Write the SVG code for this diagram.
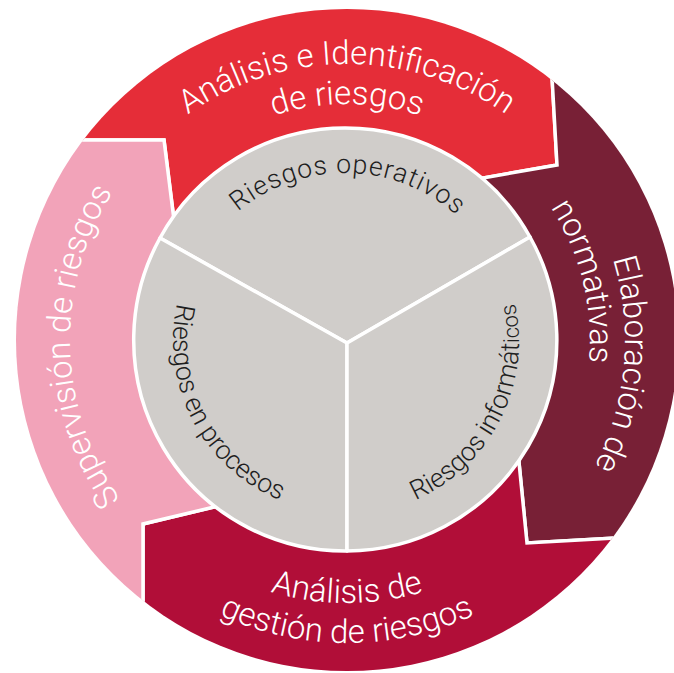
<svg xmlns="http://www.w3.org/2000/svg" width="674" height="673" viewBox="0 0 674 673">
<style>
.seg{stroke:#fff;stroke-width:3.5;stroke-linejoin:miter}
.sec{fill:#D0CDCA;stroke:#fff;stroke-width:3.5;stroke-linejoin:round}
.ot{font-family:Roboto,"Liberation Sans",Arial,sans-serif;font-weight:300;font-size:33px;fill:#fff;text-anchor:middle}
.it{font-family:Roboto,"Liberation Sans",Arial,sans-serif;font-weight:300;font-size:26.5px;fill:#1e1e1e;text-anchor:middle}
</style>
<defs>
<clipPath id="ring"><circle cx="347" cy="340" r="331"/></clipPath>
<path id="pTop1" d="M 71 340 A 276 276 0 0 1 623 340"/>
<path id="pTop2" d="M 111 340 A 236 236 0 0 1 583 340"/>
<path id="pR1" d="M 347 62 A 278 278 0 0 1 347 618"/>
<path id="pR2" d="M 347 97 A 243 243 0 0 1 347 583"/>
<path id="pB1" d="M 84 340 A 263 263 0 0 0 610 340"/>
<path id="pB2" d="M 44 340 A 303 303 0 0 0 650 340"/>
<path id="pL" d="M 347 617 A 277 277 0 0 1 347 63"/>
<path id="pOp" d="M 177 341 A 168 168 0 0 1 513 341"/>
<path id="pProc" d="M 345 169 A 172 172 0 0 0 345 513"/>
<path id="pInf" d="M 345 515 A 174 174 0 0 0 345 167"/>
</defs>

<g clip-path="url(#ring)">
<g id="analisis-identificacion">
<path class="seg" fill="#E52D38" d="M 347 340 L 176 236 L 164 140 L -20 140 L -20 -20 L 546.5 -20 L 557 165 L 460 182 Z"/>
</g>
<g id="elaboracion-normativas">
<path class="seg" fill="#782036" d="M 347 340 L 460 182 L 557 165 L 546.5 -20 L 700 -20 L 700 533.4 L 527 543 L 516.8 440 Z"/>
</g>
<g id="analisis-gestion">
<path class="seg" fill="#B10E38" d="M 347 340 L 516.8 440 L 527 543 L 700 533.4 L 700 700 L 143 700 L 143 524 L 235 502 Z"/>
</g>
<g id="supervision">
<path class="seg" fill="#F2A3B9" d="M 347 340 L 235 502 L 143 524 L 143 700 L -20 700 L -20 140 L 164 140 L 176 236 Z"/>
</g>
</g>

<g id="ring-labels">
<text class="ot"><textPath href="#pTop1" startOffset="50%">Análisis e Identificación</textPath></text>
<text class="ot"><textPath href="#pTop2" startOffset="50%">de riesgos</textPath></text>
<text class="ot"><textPath href="#pR1" startOffset="52.8%">Elaboración de</textPath></text>
<text class="ot"><textPath href="#pR2" startOffset="42.3%">normativas</textPath></text>
<text class="ot"><textPath href="#pB1" startOffset="50%">Análisis de</textPath></text>
<text class="ot"><textPath href="#pB2" startOffset="50%">gestión de riesgos</textPath></text>
<text class="ot"><textPath href="#pL" startOffset="49.2%">Supervisión de riesgos</textPath></text>
</g>

<g id="riesgos-operativos">
<path class="sec" d="M 347 343 L 160 238 A 211 211 0 0 1 530 237 Z"/>
<text class="it" font-size="29px" letter-spacing="1"><textPath href="#pOp" startOffset="50.6%">Riesgos operativos</textPath></text>
</g>
<g id="riesgos-procesos">
<path class="sec" d="M 347 343 L 347 551 A 211 211 0 0 1 160 238 Z"/>
<text class="it"><textPath href="#pProc" startOffset="65.3%">Riesgos en procesos</textPath></text>
</g>
<g id="riesgos-informaticos">
<path class="sec" d="M 347 343 L 530 237 A 211 211 0 0 1 347 551 Z"/>
<text class="it"><textPath href="#pInf" startOffset="35.1%">Riesgos informát<tspan font-size="22px">icos</tspan></textPath></text>
</g>
<g id="connectors"></g>
</svg>
